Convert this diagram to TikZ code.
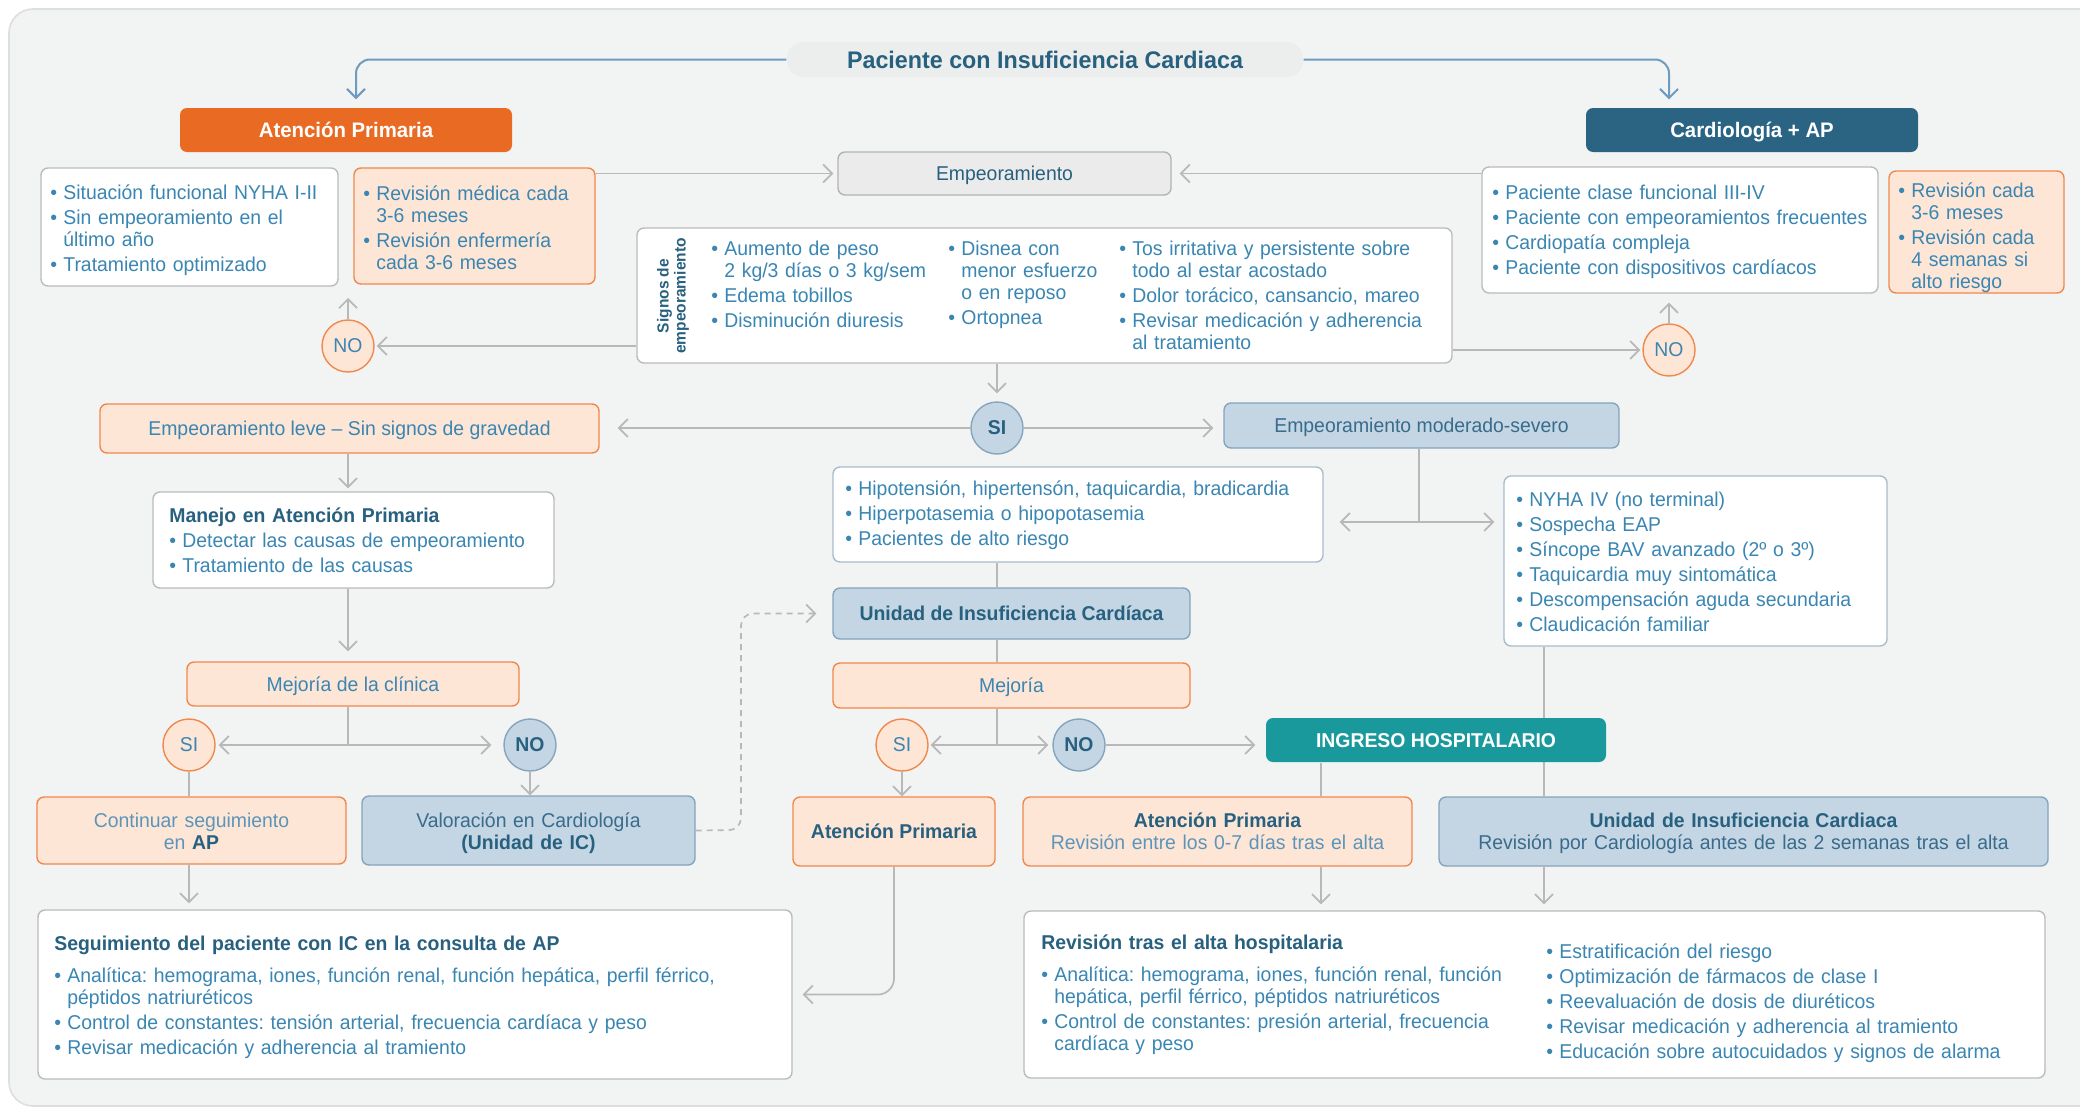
\documentclass[tikz,border=0pt]{standalone}
\usepackage{fontspec}
\setmainfont{Liberation Sans}[FakeStretch=0.97]
\frenchspacing
\usetikzlibrary{arrows.meta,fit,calc,backgrounds}

\definecolor{panelfill}{HTML}{F2F3F3}
\definecolor{panelline}{HTML}{DDDEDE}
\definecolor{pillfill}{HTML}{ECEDED}
\definecolor{hdorange}{HTML}{E96A22}
\definecolor{hdblue}{HTML}{2B6482}
\definecolor{hdteal}{HTML}{19999C}
\definecolor{lorange}{HTML}{FDE6D6}
\definecolor{orangeln}{HTML}{F0884C}
\definecolor{lblue}{HTML}{C4D6E3}
\definecolor{blueln}{HTML}{85A4BD}
\definecolor{wline}{HTML}{BBBBBB}
\definecolor{hline}{HTML}{A9BCCB}
\definecolor{gfill}{HTML}{EBEBEB}
\definecolor{gline}{HTML}{B3B3B3}
\definecolor{arrgrey}{HTML}{B8B8B8}
\definecolor{topline}{HTML}{6E9BC0}
\definecolor{txtblue}{HTML}{3A86B3}
\definecolor{txtdark}{HTML}{28607F}
\definecolor{txtmid}{HTML}{396B8C}
\definecolor{txtlight}{HTML}{5C95B9}

\pgfdeclarelayer{panel}
\pgfsetlayers{panel,background,main}

\newcommand\bu{\makebox[6.5pt][l]{\textbullet}}
\newcommand\ct{\hspace*{6.5pt}}

\tikzset{
  body/.style={font=\fontsize{10}{11}\selectfont},
  box/.style={rounded corners=3.5pt, line width=0.7pt, inner sep=0pt},
  wbox/.style={box, fill=white, draw=wline},
  hbox/.style={box, fill=white, draw=hline},
  obox/.style={box, fill=lorange, draw=orangeln},
  bbox/.style={box, fill=lblue, draw=blueln},
  gbox/.style={box, fill=gfill, draw=gline},
  hdr/.style={box, draw=none},
  ocirc/.style={circle, minimum size=26pt, inner sep=0pt, fill=lorange, draw=orangeln, line width=0.7pt, text=txtblue, body},
  bcirc/.style={circle, minimum size=26pt, inner sep=0pt, fill=lblue, draw=blueln, line width=0.7pt, text=txtdark, body, font=\bfseries\fontsize{10}{11}\selectfont},
  lbl/.style={inner sep=0pt, body, text height=7.2pt, text depth=0pt},
  txt/.style={inner sep=0pt, anchor=base west, align=left, text width=500pt, text=txtblue, body},
  two/.style={inner sep=0pt, anchor=base, align=center, text width=320pt, body},
  ln/.style={draw=arrgrey, line width=0.85pt},
  arr/.style={ln, -{Straight Barb[length=4.5pt,width=9pt,line width=0.85pt]}},
  darr/.style={draw=arrgrey, line width=0.85pt, dash pattern=on 3pt off 2.5pt, -{Straight Barb[length=4.5pt,width=9pt,line width=0.85pt]}},
  tarr/.style={draw=topline, line width=1pt, -{Straight Barb[length=4.5pt,width=9pt,line width=1pt]}},
}

\begin{document}
\begin{tikzpicture}[x=0.5pt, y=-0.5pt]
\useasboundingbox (0,0) rectangle (2080,1108);
\clip (0,0) rectangle (2080,1108);

\begin{pgfonlayer}{panel}
  \fill[white] (0,0) rectangle (2080,1108);
  \draw[fill=panelfill, draw=panelline, line width=0.8pt, rounded corners=12pt] (9,9) rectangle (2110,1106);
\end{pgfonlayer}

% ---------- top level ----------
\node[hdr, fill=pillfill, fit={(787,42)(1303,77)}, rounded corners=8pt] (title) {};
\node[lbl, font=\bfseries\fontsize{12}{13}\selectfont, text height=8.6pt, text=txtdark] (titlet) at (title.center) {Paciente con Insuficiencia Cardiaca};

\node[hdr, fill=hdorange, fit={(180,108)(512,152)}] (hap) {};
\node[lbl, font=\bfseries\fontsize{10.5}{12}\selectfont, text height=7.5pt, text=white] (hapt) at (hap.center) {Atención Primaria};
\node[hdr, fill=hdblue, fit={(1586,108)(1918,152)}] (hcard) {};
\node[lbl, font=\bfseries\fontsize{10.5}{12}\selectfont, text height=7.5pt, text=white] (hcardt) at (hcard.center) {Cardiología + AP};

\node[wbox, fit={(41,168)(338,286)}] (w1) {};
\node[txt] (w1t) at (50,199) {\bu Situación funcional NYHA I-II\\[1.5pt]
  \bu Sin empeoramiento en el\\ \ct último año\\[1.5pt]
  \bu Tratamiento optimizado};

\node[obox, fit={(354,168)(595,284)}] (o1) {};
\node[txt] (o1t) at (363,200) {\bu Revisión médica cada\\ \ct 3-6 meses\\[1.5pt]
  \bu Revisión enfermería\\ \ct cada 3-6 meses};

\node[gbox, fit={(838,152)(1171,195)}] (emp) {};
\node[lbl, text=txtdark] (empt) at (emp.center) {Empeoramiento};

\node[wbox, fit={(1482,167)(1878,293)}] (w2) {};
\node[txt] (w2t) at (1492,199) {\bu Paciente clase funcional III-IV\\[1.5pt]
  \bu Paciente con empeoramientos frecuentes\\[1.5pt]
  \bu Cardiopatía compleja\\[1.5pt]
  \bu Paciente con dispositivos cardíacos};

\node[obox, fit={(1889,171)(2064,293)}] (o2) {};
\node[txt] (o2t) at (1898,197) {\bu Revisión cada\\ \ct 3-6 meses\\[1.5pt]
  \bu Revisión cada\\ \ct 4 semanas si\\ \ct alto riesgo};

% ---------- signs of worsening ----------
\node[wbox, fit={(637,228)(1452,363)}] (sig) {};
\node[rotate=90, inner sep=0pt, align=center, text=txtdark,
      font=\bfseries\fontsize{8}{8.6}\selectfont] (sigl) at (673,296) {Signos de\\empeoramiento};
\node[txt] (sigc1) at (711,255) {\bu Aumento de peso\\ \ct 2 kg/3 días o 3 kg/sem\\[1.5pt]
  \bu Edema tobillos\\[1.5pt] \bu Disminución diuresis};
\node[txt] (sigc2) at (948,255) {\bu Disnea con\\ \ct menor esfuerzo\\ \ct o en reposo\\[1.5pt]
  \bu Ortopnea};
\node[txt] (sigc3) at (1119,255) {\bu Tos irritativa y persistente sobre\\ \ct todo al estar acostado\\[1.5pt]
  \bu Dolor torácico, cansancio, mareo\\[1.5pt]
  \bu Revisar medicación y adherencia\\ \ct al tratamiento};

\node[ocirc] (no1) at (348,346) {NO};
\node[ocirc] (no2) at (1669,350) {NO};
\node[bcirc] (si1) at (997,428) {SI};

% ---------- mild worsening branch ----------
\node[obox, fit={(100,404)(599,453)}] (leve) {};
\node[lbl, text=txtblue] (levet) at (leve.center) {Empeoramiento leve – Sin signos de gravedad};

\node[wbox, fit={(153,492)(554,588)}] (man) {};
\node[txt] (mant) at (169,522) {{\bfseries\color{txtdark}Manejo en Atención Primaria}\\[1.5pt]
  \bu Detectar las causas de empeoramiento\\[1.5pt]
  \bu Tratamiento de las causas};

\node[obox, fit={(187,662)(519,706)}] (mc) {};
\node[lbl, text=txtblue] (mct) at (mc.center) {Mejoría de la clínica};

\node[ocirc] (si2) at (189,745) {SI};
\node[bcirc] (no3) at (530,745) {NO};

\node[obox, fit={(37,797)(346,864)}] (cont) {};
\node[two, text=txtlight] (contt) at (191.5,827) {Continuar seguimiento\\ en {\bfseries\color{txtdark}AP}};
\node[bbox, fit={(362,796)(695,865)}] (val) {};
\node[two, text=txtmid] (valt) at (528.5,827) {Valoración en Cardiología\\ {\bfseries\color{txtdark}(Unidad de IC)}};

\node[wbox, fit={(38,910)(792,1079)}] (seg) {};
\node[txt] (segt) at (54,950) {{\bfseries\color{txtdark}Seguimiento del paciente con IC en la consulta de AP}\\[5pt]
  \bu Analítica: hemograma, iones, función renal, función hepática, perfil férrico,\\ \ct péptidos natriuréticos\\[1.5pt]
  \bu Control de constantes: tensión arterial, frecuencia cardíaca y peso\\[1.5pt]
  \bu Revisar medicación y adherencia al tramiento};

% ---------- moderate / severe branch ----------
\node[bbox, fit={(1224,403)(1619,448)}] (mod) {};
\node[lbl, text=txtmid] (modt) at (mod.center) {Empeoramiento moderado-severo};

\node[hbox, fit={(833,467)(1323,562)}] (hip) {};
\node[txt] (hipt) at (845,495) {\bu Hipotensión, hipertensón, taquicardia, bradicardia\\[1.5pt]
  \bu Hiperpotasemia o hipopotasemia\\[1.5pt]
  \bu Pacientes de alto riesgo};

\node[hbox, fit={(1504,476)(1887,646)}] (nyha) {};
\node[txt] (nyhat) at (1516,506) {\bu NYHA IV (no terminal)\\[1.5pt]
  \bu Sospecha EAP\\[1.5pt]
  \bu Síncope BAV avanzado (2º o 3º)\\[1.5pt]
  \bu Taquicardia muy sintomática\\[1.5pt]
  \bu Descompensación aguda secundaria\\[1.5pt]
  \bu Claudicación familiar};

\node[bbox, fit={(833,588)(1190,639)}] (uic) {};
\node[lbl, font=\bfseries\fontsize{10}{11}\selectfont, text=txtdark] (uict) at (uic.center) {Unidad de Insuficiencia Cardíaca};

\node[obox, fit={(833,663)(1190,708)}] (mej) {};
\node[lbl, text=txtblue] (mejt) at (mej.center) {Mejoría};

\node[ocirc] (si3) at (902,745) {SI};
\node[bcirc] (no4) at (1079,745) {NO};

\node[hdr, fill=hdteal, fit={(1266,718)(1606,762)}] (ing) {};
\node[lbl, font=\bfseries\fontsize{10}{11}\selectfont, text=white] (ingt) at (ing.center) {INGRESO HOSPITALARIO};

\node[obox, fit={(793,797)(995,866)}] (ap) {};
\node[lbl, font=\bfseries\fontsize{10}{11}\selectfont, text=txtdark] (apt) at (ap.center) {Atención Primaria};

\node[obox, fit={(1023,797)(1412,866)}] (ap2) {};
\node[two, text=txtlight] (ap2t) at (1217.5,827) {{\bfseries\color{txtdark}Atención Primaria}\\ Revisión entre los 0-7 días tras el alta};

\node[bbox, fit={(1439,797)(2048,866)}] (uic2) {};
\node[two, text=txtmid] (uic2t) at (1743.5,827) {{\bfseries\color{txtdark}Unidad de Insuficiencia Cardiaca}\\ Revisión por Cardiología antes de las 2 semanas tras el alta};

\node[wbox, fit={(1024,911)(2045,1078)}] (rev) {};
\node[txt] (revt) at (1041,949) {{\bfseries\color{txtdark}Revisión tras el alta hospitalaria}\\[5pt]
  \bu Analítica: hemograma, iones, función renal, función\\ \ct hepática, perfil férrico, péptidos natriuréticos\\[1.5pt]
  \bu Control de constantes: presión arterial, frecuencia\\ \ct cardíaca y peso};
\node[txt] (revr) at (1546,958) {\bu Estratificación del riesgo\\[1.5pt]
  \bu Optimización de fármacos de clase I\\[1.5pt]
  \bu Reevaluación de dosis de diuréticos\\[1.5pt]
  \bu Revisar medicación y adherencia al tramiento\\[1.5pt]
  \bu Educación sobre autocuidados y signos de alarma};

% ---------- connectors ----------
\coordinate (g1) at (348,298);
\coordinate (mj) at (1419,522);
\coordinate (dk) at (741,830);

\begin{scope}[on background layer]
  \draw[tarr, rounded corners=7pt, shorten >=4pt] (title.west) -| ([xshift=4pt]no1 |- hap.north);
  \draw[tarr, rounded corners=7pt, shorten >=4pt] (title.east) -| (no2 |- hcard.north);

  \draw[arr, shorten >=2pt] (o1.east |- emp.west) -- (emp.west);
  \draw[arr, shorten >=4pt] (w2.west |- emp.east) -- (emp.east);

  \draw[arr] (no1) -- (g1);
  \draw[arr, shorten >=4.5pt] (no2) -- (no2 |- w2.south);
  \draw[arr, shorten >=1pt] (sig.west |- no1) -- (no1);
  \draw[arr, shorten >=1pt] (sig.east |- no2) -- (no2);
  \draw[arr, shorten >=4pt] (si1 |- sig.south) -- (si1);

  \draw[arr, shorten >=9pt] (si1) -- (si1 -| leve.east);
  \draw[arr, shorten >=5pt] (si1) -- (si1 -| mod.west);

  \draw[arr, shorten >=1.5pt] (no1 |- leve.south) -- (no1 |- man.north);
  \draw[arr, shorten >=5pt] (no1 |- man.south) -- (no1 |- mc.north);
  \draw[ln] (no1 |- mc.south) -- (no1 |- si2);
  \draw[arr, shorten >=1.5pt] (no1 |- si2) -- (si2);
  \draw[arr, shorten >=6pt] (no1 |- si2) -- (no3);
  \draw[ln] (si2) -- (si2 |- cont.north);
  \draw[arr] (no3) -- (no3 |- val.north);
  \draw[arr, shorten >=3pt] (si2 |- cont.south) -- (si2 |- seg.north);
  \draw[darr, rounded corners=6pt, shorten >=8pt] (val.east) -- (dk) |- (uic.west);

  \draw[ln] (mod.south -| mj) -- (mj);
  \draw[arr, shorten >=8pt] (mj) -- (mj -| hip.east);
  \draw[arr, shorten >=4.5pt] (mj) -- (mj -| nyha.west);

  \draw[ln] (si1 |- hip.south) -- (si1 |- uic.north);
  \draw[ln] (si1 |- uic.south) -- (si1 |- mej.north);
  \draw[ln] (si1 |- mej.south) -- (si1 |- si3);
  \draw[arr, shorten >=1pt] (si1 |- si3) -- (si3);
  \draw[arr, shorten >=2pt] (si1 |- si3) -- (no4);
  \draw[arr, shorten >=5pt] (no4) -- (no4 -| ing.west);
  \draw[arr] (si3) -- (si3 |- ap.north);

  \draw[ln] (1544,0 |- nyha.south) -- (1544,0 |- uic2.north);
  \draw[ln] (1321,0 |- ing.south) -- (1321,0 |- ap2.north);

  \draw[arr, shorten >=3pt] (1321,0 |- ap2.south) -- (1321,0 |- rev.north);
  \draw[arr, shorten >=3pt] (1544,0 |- uic2.south) -- (1544,0 |- rev.north);
  \draw[arr, rounded corners=8pt, shorten >=5pt] (ap.south) |- (seg.east);
\end{scope}
\end{tikzpicture}
\end{document}
